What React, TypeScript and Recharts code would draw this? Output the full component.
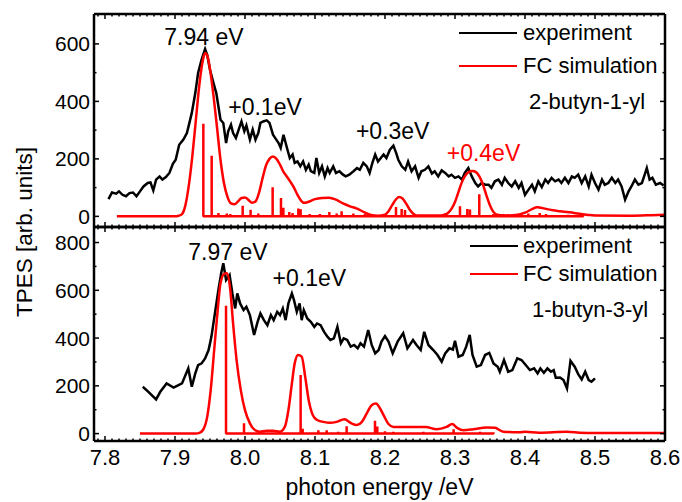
import React from "react";
import { ComposedChart, Line, ReferenceDot, XAxis, YAxis } from "recharts";

type Pt = [number, number];

// photon energy ticks (eV)
const xMajorTicks = [7.8, 7.9, 8.0, 8.1, 8.2, 8.3, 8.4, 8.5, 8.6];
const topYMajorTicks = [0, 200, 400, 600];
const bottomYMajorTicks = [0, 200, 400, 600, 800];

// 2-butyn-1-yl: measured TPES
const expTop: Pt[] = [
  [7.805, 60], [7.81, 83], [7.816, 79], [7.82, 87], [7.825, 75], [7.83, 70], [7.835, 81], [7.84, 83],
  [7.845, 70], [7.85, 87], [7.855, 104], [7.861, 116], [7.865, 118], [7.869, 90], [7.873, 128], [7.878, 139],
  [7.882, 128], [7.887, 137], [7.892, 151], [7.897, 183], [7.901, 197], [7.906, 249], [7.912, 267], [7.917, 290],
  [7.92, 319], [7.924, 360], [7.929, 429], [7.933, 499], [7.938, 545], [7.943, 582], [7.946, 562], [7.95, 510],
  [7.955, 464], [7.959, 429], [7.962, 383], [7.965, 336], [7.969, 325], [7.973, 255], [7.976, 296], [7.98, 319],
  [7.983, 290], [7.987, 273], [7.991, 302], [7.995, 330], [7.999, 296], [8.002, 316], [8.007, 267], [8.011, 302],
  [8.015, 267], [8.019, 290], [8.022, 325], [8.026, 330], [8.031, 334], [8.035, 325], [8.04, 284], [8.043, 273],
  [8.048, 255], [8.051, 238], [8.055, 284], [8.06, 238], [8.064, 203], [8.068, 215], [8.071, 186], [8.075, 191],
  [8.079, 174], [8.083, 191], [8.087, 162], [8.091, 180], [8.094, 157], [8.099, 151], [8.102, 203], [8.106, 151],
  [8.11, 174], [8.114, 139], [8.118, 168], [8.121, 151], [8.126, 174], [8.13, 151], [8.135, 157], [8.14, 145],
  [8.144, 139], [8.149, 145], [8.155, 157], [8.16, 168], [8.164, 162], [8.169, 186], [8.174, 174], [8.178, 151],
  [8.182, 186], [8.186, 215], [8.19, 191], [8.198, 215], [8.202, 203], [8.207, 232], [8.212, 246], [8.216, 220],
  [8.219, 197], [8.224, 174], [8.229, 162], [8.233, 191], [8.238, 157], [8.243, 174], [8.248, 134], [8.252, 157],
  [8.257, 162], [8.262, 174], [8.267, 149], [8.271, 157], [8.276, 139], [8.281, 160], [8.286, 151], [8.291, 139],
  [8.295, 145], [8.3, 134], [8.305, 139], [8.31, 128], [8.314, 151], [8.319, 168], [8.324, 139], [8.329, 116],
  [8.333, 104], [8.338, 116], [8.343, 110], [8.348, 110], [8.352, 99], [8.357, 122], [8.362, 128], [8.367, 110],
  [8.371, 134], [8.376, 116], [8.381, 104], [8.386, 122], [8.391, 99], [8.395, 116], [8.4, 75], [8.405, 93],
  [8.41, 110], [8.414, 87], [8.419, 122], [8.424, 102], [8.429, 128], [8.433, 116], [8.438, 134], [8.443, 122],
  [8.448, 128], [8.452, 116], [8.457, 134], [8.462, 116], [8.467, 139], [8.471, 134], [8.476, 145], [8.481, 116],
  [8.486, 139], [8.491, 104], [8.495, 145], [8.5, 116], [8.505, 93], [8.51, 128], [8.514, 110], [8.519, 116],
  [8.524, 134], [8.529, 116], [8.533, 128], [8.538, 104], [8.543, 58], [8.548, 87], [8.552, 104], [8.557, 128],
  [8.562, 110], [8.567, 116], [8.571, 145], [8.574, 168], [8.578, 128], [8.582, 134], [8.587, 110], [8.593, 116],
  [8.598, 107],
];

// 2-butyn-1-yl: Franck-Condon envelope
const fcTop: Pt[] = [
  [7.817, 0], [7.85, 0], [7.9, 0], [7.905, 2], [7.91, 8], [7.915, 40], [7.92, 112], [7.925, 215], [7.93, 340],
  [7.935, 462], [7.94, 545], [7.943, 568], [7.946, 560], [7.95, 512], [7.955, 420], [7.96, 310], [7.965, 197],
  [7.97, 115], [7.975, 68], [7.98, 45], [7.985, 42], [7.99, 52], [7.995, 64], [8.0, 66], [8.005, 57], [8.01, 47],
  [8.015, 52], [8.02, 82], [8.025, 132], [8.03, 177], [8.035, 200], [8.04, 208], [8.045, 200], [8.05, 180],
  [8.055, 155], [8.06, 138], [8.065, 120], [8.07, 100], [8.075, 75], [8.08, 55], [8.085, 47], [8.09, 50],
  [8.1, 60], [8.11, 64], [8.12, 65], [8.13, 58], [8.14, 45], [8.15, 35], [8.16, 27], [8.17, 15], [8.18, 5],
  [8.19, 2], [8.2, 6], [8.205, 18], [8.21, 38], [8.215, 57], [8.22, 67], [8.225, 62], [8.23, 45], [8.235, 25],
  [8.24, 10], [8.245, 3], [8.28, 3], [8.285, 6], [8.29, 12], [8.295, 26], [8.3, 50], [8.305, 85], [8.31, 120],
  [8.315, 143], [8.32, 155], [8.325, 158], [8.33, 154], [8.335, 138], [8.34, 110], [8.345, 72], [8.35, 38],
  [8.355, 15], [8.36, 6], [8.37, 3], [8.39, 6], [8.4, 13], [8.41, 25], [8.417, 32], [8.42, 31], [8.43, 26],
  [8.44, 21], [8.45, 18], [8.46, 15], [8.47, 12], [8.48, 8], [8.49, 5], [8.5, 3], [8.55, 2], [8.58, 4], [8.6, 6],
];

// 2-butyn-1-yl: stick spectrum (position, intensity)
const sticksTop: Pt[] = [
  [7.9405, 322], [7.9524, 211], [7.962, 12], [7.974, 10], [7.979, 8], [7.9967, 37], [8.008, 23], [8.019, 10],
  [8.0395, 101], [8.0514, 64], [8.0548, 30], [8.0633, 15], [8.068, 12], [8.0762, 27], [8.0795, 25], [8.0924, 8],
  [8.107, 8], [8.1205, 15], [8.131, 10], [8.138, 18], [8.1548, 10], [8.1714, 8], [8.2157, 33], [8.2238, 26],
  [8.2286, 22], [8.3071, 35], [8.3176, 26], [8.3214, 24], [8.3347, 77], [8.3548, 8], [8.369, 8], [8.4048, 10],
  [8.421, 12], [8.43, 8], [8.4619, 6], [8.483, 6],
];

// 1-butyn-3-yl: measured TPES
const expBottom: Pt[] = [
  [7.854, 196], [7.862, 175], [7.873, 143], [7.879, 175], [7.888, 210], [7.898, 193], [7.905, 203], [7.91, 210],
  [7.914, 238], [7.919, 273], [7.924, 196], [7.929, 252], [7.933, 287], [7.938, 294], [7.943, 315], [7.948, 350],
  [7.952, 405], [7.957, 503], [7.962, 601], [7.966, 671], [7.969, 713], [7.973, 643], [7.978, 664], [7.982, 587],
  [7.986, 524], [7.989, 587], [7.993, 545], [7.998, 517], [8.002, 531], [8.007, 496], [8.013, 413], [8.018, 468],
  [8.022, 503], [8.027, 475], [8.032, 454], [8.037, 496], [8.041, 475], [8.046, 510], [8.05, 496], [8.054, 524],
  [8.058, 475], [8.062, 545], [8.067, 587], [8.07, 559], [8.074, 510], [8.078, 545], [8.081, 475], [8.084, 517],
  [8.089, 482], [8.094, 468], [8.099, 447], [8.103, 461], [8.108, 454], [8.113, 426], [8.118, 405], [8.122, 392],
  [8.127, 399], [8.132, 447], [8.137, 378], [8.141, 399], [8.146, 392], [8.151, 364], [8.156, 371], [8.161, 357],
  [8.165, 378], [8.17, 364], [8.176, 434], [8.181, 371], [8.186, 336], [8.191, 350], [8.195, 385], [8.2, 408],
  [8.205, 385], [8.211, 336], [8.218, 385], [8.226, 420], [8.232, 357], [8.24, 392], [8.245, 371], [8.251, 350],
  [8.256, 426], [8.262, 371], [8.269, 350], [8.275, 329], [8.281, 301], [8.286, 336], [8.292, 357], [8.297, 352],
  [8.3, 389], [8.305, 322], [8.311, 329], [8.316, 364], [8.321, 413], [8.325, 329], [8.331, 280], [8.337, 287],
  [8.343, 329], [8.349, 338], [8.355, 294], [8.361, 280], [8.364, 259], [8.37, 308], [8.376, 259], [8.382, 266],
  [8.389, 315], [8.395, 308], [8.401, 287], [8.407, 266], [8.413, 273], [8.418, 252], [8.422, 273], [8.427, 255],
  [8.432, 273], [8.437, 259], [8.441, 266], [8.444, 234], [8.45, 235], [8.455, 224], [8.46, 189], [8.465, 305],
  [8.471, 280], [8.476, 249], [8.481, 227], [8.486, 259], [8.491, 224], [8.495, 217], [8.5, 231],
];

// 1-butyn-3-yl: Franck-Condon envelope
const fcBottom: Pt[] = [
  [7.85, 0], [7.93, 0], [7.935, 3], [7.94, 15], [7.946, 70], [7.951, 182], [7.956, 350], [7.961, 517],
  [7.965, 629], [7.97, 668], [7.974, 671], [7.979, 601], [7.983, 461], [7.988, 308], [7.994, 182], [8.0, 98],
  [8.007, 43], [8.014, 15], [8.021, 8], [8.031, 12], [8.04, 12], [8.05, 8], [8.057, 29], [8.062, 98],
  [8.067, 210], [8.071, 294], [8.076, 329], [8.081, 322], [8.086, 238], [8.091, 140], [8.097, 77], [8.103, 57],
  [8.112, 49], [8.121, 45], [8.131, 49], [8.142, 60], [8.152, 43], [8.16, 36], [8.167, 49], [8.174, 85],
  [8.181, 119], [8.187, 126], [8.193, 105], [8.198, 77], [8.205, 40], [8.212, 28], [8.258, 28], [8.274, 18],
  [8.288, 28], [8.296, 40], [8.303, 24], [8.312, 14], [8.326, 18], [8.345, 26], [8.357, 24], [8.369, 8],
  [8.393, 6], [8.4, 8], [8.42, 4], [8.46, 8], [8.478, 4], [8.5, 2], [8.6, 2],
];

// 1-butyn-3-yl: stick spectrum (position, intensity)
const sticksBottom: Pt[] = [
  [7.9729, 535], [7.9986, 43], [8.0795, 245], [8.0824, 20], [8.1048, 14], [8.1167, 14], [8.1333, 8],
  [8.1452, 31], [8.1857, 54], [8.189, 30], [8.2, 10], [8.2119, 8], [8.2548, 8], [8.298, 18], [8.3357, 8],
  [8.355, 6],
];

type Note = { x: number; y: number; text: string; color: string };

const notesTop: Note[] = [
  { x: 7.9414, y: 625, text: "7.94 eV", color: "#000" },
  { x: 8.0286, y: 382, text: "+0.1eV", color: "#000" },
  { x: 8.211, y: 297, text: "+0.3eV", color: "#000" },
  { x: 8.3407, y: 220, text: "+0.4eV", color: "#ff0000" },
];

const notesBottom: Note[] = [
  { x: 7.9757, y: 761, text: "7.97 eV", color: "#000" },
  { x: 8.092, y: 651, text: "+0.1eV", color: "#000" },
];

const FONT = "'Liberation Sans', Arial, Helvetica, sans-serif";
const RED = "#ff0000";
const X_DOMAIN: [number, number] = [7.7843, 8.6];
const FRAME = { stroke: "#000", strokeWidth: 2.5 };

// minor ticks every 0.01 eV and every 100 counts
const xAllTicks = Array.from({ length: 82 }, (_, i) => Math.round((7.79 + i * 0.01) * 100) / 100);
const topYAllTicks = [0, 100, 200, 300, 400, 500, 600];
const bottomYAllTicks = [0, 100, 200, 300, 400, 500, 600, 700, 800];

type Row = { x: number; exp?: number; fc?: number; stick?: number };

function buildRows(exp: Pt[], fc: Pt[], sticks: Pt[]): Row[] {
  const rows: Row[] = [];
  exp.forEach(([x, v]) => rows.push({ x, exp: v }));
  fc.forEach(([x, v]) => rows.push({ x, fc: v }));
  // each stick is an impulse: up from the baseline and back down
  sticks.forEach(([x, h]) => {
    rows.push({ x, stick: 0 }, { x, stick: h }, { x, stick: 0 });
  });
  return rows.sort((a, b) => a.x - b.x);
}

type Side = "bottom" | "top" | "left" | "right";

// inward-pointing ticks, labels outside the frame
function makeTick(side: Side, labelled: boolean, majors: number[], fontSize: number) {
  return (props: any) => {
    const { x, y, payload } = props;
    const v: number = payload.value;
    const major = majors.some((m) => Math.abs(m - v) < 1e-6);
    const len = major ? 5 : 2.5;
    let tick: JSX.Element;
    let label: JSX.Element | null = null;
    if (side === "bottom") {
      tick = <line x1={x} y1={y} x2={x} y2={y - len} stroke="#000" strokeWidth={1.5} />;
      if (labelled && major) {
        label = (
          <text x={x} y={y + 24} textAnchor="middle" fontSize={fontSize} fill="#000">
            {v.toFixed(1)}
          </text>
        );
      }
    } else if (side === "top") {
      tick = <line x1={x} y1={y} x2={x} y2={y + len} stroke="#000" strokeWidth={1.5} />;
    } else if (side === "left") {
      tick = <line x1={x} y1={y} x2={x + len} y2={y} stroke="#000" strokeWidth={1.5} />;
      if (labelled && major) {
        label = (
          <text x={x - 4} y={y + 7.5} textAnchor="end" fontSize={fontSize} fill="#000">
            {String(v)}
          </text>
        );
      }
    } else {
      tick = <line x1={x} y1={y} x2={x - len} y2={y} stroke="#000" strokeWidth={1.5} />;
    }
    return (
      <g>
        {tick}
        {label}
      </g>
    );
  };
}

interface PanelProps {
  exp: Pt[];
  fc: Pt[];
  sticks: Pt[];
  notes: Note[];
  plotTop: number;
  plotBottom: number;
  xAxisHeight: number;
  xLabels: boolean;
  yDomain: [number, number];
  yTicks: number[];
  yMajors: number[];
}

// edge axes need a non-zero size or they are not drawn
const EDGE = 1;

function Panel(p: PanelProps) {
  const rows = buildRows(p.exp, p.fc, p.sticks);
  return (
    <div style={{ position: "absolute", left: 0, top: 0 }}>
      <ComposedChart
        width={682}
        height={502}
        data={rows}
        margin={{
          top: p.plotTop - EDGE,
          right: 17 - EDGE,
          bottom: 502 - p.plotBottom - p.xAxisHeight,
          left: 0,
        }}
      >
        <XAxis
          dataKey="x"
          type="number"
          domain={X_DOMAIN}
          allowDataOverflow
          ticks={xAllTicks}
          interval={0}
          height={p.xAxisHeight}
          tickSize={0}
          tickMargin={0}
          tickLine={false}
          axisLine={FRAME}
          tick={makeTick("bottom", p.xLabels, xMajorTicks, 22)}
          label={
            p.xLabels
              ? { value: "photon energy /eV", position: "insideBottom", offset: 7, fontSize: 23, fill: "#000" }
              : undefined
          }
        />
        <XAxis
          xAxisId="top"
          orientation="top"
          dataKey="x"
          type="number"
          domain={X_DOMAIN}
          allowDataOverflow
          ticks={xAllTicks}
          interval={0}
          height={EDGE}
          tickSize={0}
          tickMargin={0}
          tickLine={false}
          axisLine={FRAME}
          tick={makeTick("top", false, xMajorTicks, 22)}
        />
        <YAxis
          type="number"
          domain={p.yDomain}
          allowDataOverflow
          ticks={p.yTicks}
          interval={0}
          width={94}
          tickSize={0}
          tickMargin={0}
          tickLine={false}
          axisLine={FRAME}
          tick={makeTick("left", true, p.yMajors, 21)}
        />
        <YAxis
          yAxisId="right"
          orientation="right"
          type="number"
          domain={p.yDomain}
          allowDataOverflow
          ticks={p.yTicks}
          interval={0}
          width={EDGE}
          tickSize={0}
          tickMargin={0}
          tickLine={false}
          axisLine={FRAME}
          tick={makeTick("right", false, p.yMajors, 21)}
        />
        <Line
          dataKey="exp"
          type="linear"
          stroke="#000"
          strokeWidth={2.5}
          dot={false}
          activeDot={false}
          connectNulls
          isAnimationActive={false}
        />
        <Line
          dataKey="fc"
          type="monotone"
          stroke={RED}
          strokeWidth={2.5}
          dot={false}
          activeDot={false}
          connectNulls
          isAnimationActive={false}
        />
        <Line
          dataKey="stick"
          type="linear"
          stroke={RED}
          strokeWidth={2.5}
          strokeLinejoin="bevel"
          dot={false}
          activeDot={false}
          connectNulls
          isAnimationActive={false}
        />
        {p.notes.map((n) => (
          <ReferenceDot
            key={n.text}
            x={n.x}
            y={n.y}
            r={0}
            fill="none"
            stroke="none"
            label={{ value: n.text, position: "center", fontSize: 23, fill: n.color }}
          />
        ))}
      </ComposedChart>
    </div>
  );
}

interface KeyProps {
  rows: { y: number; label: string; color: string }[];
  sampleLeft: number;
  sampleRight: number;
  textLeft: number;
  tag: string;
  tagLeft: number;
  tagY: number;
}

function Key(k: KeyProps) {
  return (
    <>
      {k.rows.map((r) => (
        <React.Fragment key={r.label}>
          <div
            style={{
              position: "absolute",
              left: k.sampleLeft,
              top: r.y - 1.25,
              width: k.sampleRight - k.sampleLeft,
              height: 2.5,
              background: r.color,
            }}
          />
          <div
            style={{
              position: "absolute",
              left: k.textLeft,
              top: r.y - 13,
              lineHeight: "26px",
              fontSize: 22,
              whiteSpace: "nowrap",
            }}
          >
            {r.label}
          </div>
        </React.Fragment>
      ))}
      <div
        style={{
          position: "absolute",
          left: k.tagLeft,
          top: k.tagY - 13,
          lineHeight: "26px",
          fontSize: 22,
          whiteSpace: "nowrap",
        }}
      >
        {k.tag}
      </div>
    </>
  );
}

export default function App() {
  return (
    <div
      style={{
        position: "absolute",
        left: 0,
        top: 0,
        width: 682,
        height: 502,
        background: "#fff",
        fontFamily: FONT,
        color: "#000",
        overflow: "hidden",
      }}
    >
      <Panel
        exp={expTop}
        fc={fcTop}
        sticks={sticksTop}
        notes={notesTop}
        plotTop={14}
        plotBottom={227}
        xAxisHeight={EDGE}
        xLabels={false}
        yDomain={[-37, 704]}
        yTicks={topYAllTicks}
        yMajors={topYMajorTicks}
      />
      <Panel
        exp={expBottom}
        fc={fcBottom}
        sticks={sticksBottom}
        notes={notesBottom}
        plotTop={227}
        plotBottom={441}
        xAxisHeight={61}
        xLabels
        yDomain={[-31, 865]}
        yTicks={bottomYAllTicks}
        yMajors={bottomYMajorTicks}
      />
      <Key
        rows={[
          { y: 33, label: "experiment", color: "#000" },
          { y: 66, label: "FC simulation", color: RED },
        ]}
        sampleLeft={459}
        sampleRight={517}
        textLeft={523}
        tag="2-butyn-1-yl"
        tagLeft={529}
        tagY={102}
      />
      <Key
        rows={[
          { y: 246, label: "experiment", color: "#000" },
          { y: 274, label: "FC simulation", color: RED },
        ]}
        sampleLeft={470}
        sampleRight={518}
        textLeft={523}
        tag="1-butyn-3-yl"
        tagLeft={532}
        tagY={310}
      />
      <div
        style={{
          position: "absolute",
          left: 25,
          top: 232,
          transform: "translate(-50%, -50%) rotate(-90deg)",
          fontSize: 22.5,
          whiteSpace: "nowrap",
        }}
      >
        TPES [arb. units]
      </div>
    </div>
  );
}
